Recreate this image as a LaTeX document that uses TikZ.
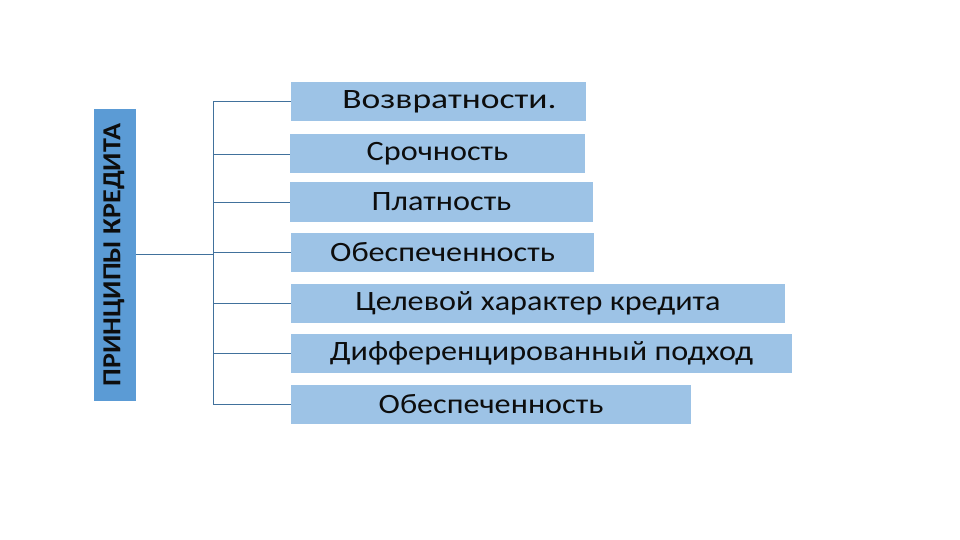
\documentclass[tikz,border=0pt]{standalone}
\usepackage{fontspec}
\setmainfont{Carlito}
\usepackage{graphicx}
\usetikzlibrary{positioning}
\definecolor{headblue}{HTML}{5B9BD5}
\definecolor{itemblue}{HTML}{9DC3E6}
\definecolor{linkblue}{HTML}{41719C}
\newcommand{\wide}[2][1.15]{\scalebox{#1}[1]{#2}}
\tikzset{
item/.style={rectangle, fill=itemblue, minimum height=39pt, inner sep=0pt,
    font=\fontsize{28}{30}\selectfont, text=black!95},
head/.style={rectangle, fill=headblue, minimum width=42pt, minimum height=292pt,
    inner sep=0pt, text=black!95},
link/.style={draw=linkblue, line width=0.8pt}}

\begin{document}
\begin{tikzpicture}[x=1pt, y=-1pt]
    \useasboundingbox (0,0) rectangle (960,540);

    \node[head] (P) at (115,255) {};
    \node[rotate=90, font=\bfseries\fontsize{26}{28}\selectfont, text=black!95, yshift=1pt] (T) at (P) {\wide[1.08]{ПРИНЦИПЫ КРЕДИТА}};

    \node[item, minimum width=295pt] (A) at (438.5,101.5) {\hspace{22pt}\wide[1.27]{Возвратности.}};
    \node[item, minimum width=295pt] (B) at (437.5,154) {\wide{Срочность}};
    \node[item, minimum width=303pt] (C) at (441.5,202) {\wide{Платность}};
    \node[item, minimum width=303pt] (D) at (442.5,252) {\wide{Обеспеченность}};
    \node[item, minimum width=494pt] (E) at (538,303.5) {\wide{Целевой характер кредита}};
    \node[item, minimum width=501pt] (F) at (541.5,353) {\wide{Дифференцированный подход}};
    \node[item, minimum width=400pt] (G) at (491,404.5) {\wide{Обеспеченность}};

    \coordinate (t) at (213,254);

    \draw[link] (P.east |- t) -- (t);
    \draw[link] (A.west -| t) -- (G.west -| t);
    \foreach \n in {A,B,C,D,E,F,G}
        \draw[link] (\n.west -| t) -- (\n.west);

\end{tikzpicture}
\end{document}
